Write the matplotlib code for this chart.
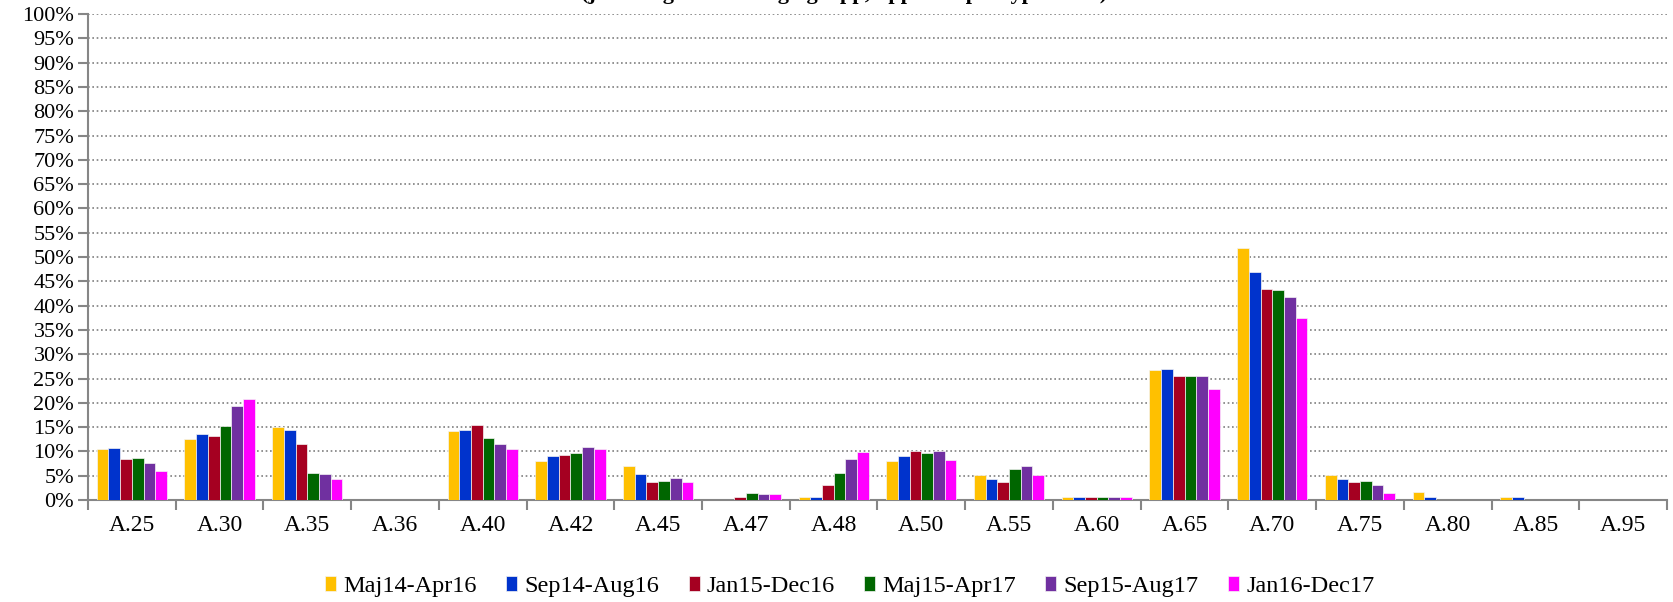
import numpy as np
import matplotlib
matplotlib.use("Agg")
import matplotlib.pyplot as plt
from matplotlib.ticker import FixedLocator

plt.rcParams['font.family'] = ['Liberation Serif', 'DejaVu Serif']

# categories on the x axis
categories = ['A.25', 'A.30', 'A.35', 'A.36', 'A.40', 'A.42', 'A.45', 'A.47', 'A.48',
              'A.50', 'A.55', 'A.60', 'A.65', 'A.70', 'A.75', 'A.80', 'A.85', 'A.95']

# one list per period, values in percent
maj14_apr16 = [10.6, 12.5, 15.1, 0, 14.3, 8.0, 7.1, 0.0, 0.7, 8.0, 5.2, 0.7, 26.7, 51.8, 5.2, 1.7, 0.7, 0]
sep14_aug16 = [10.8, 13.5, 14.4, 0, 14.4, 9.0, 5.3, 0.0, 0.7, 9.0, 4.4, 0.7, 26.9, 46.9, 4.3, 0.7, 0.7, 0]
jan15_dec16 = [8.4, 13.2, 11.6, 0, 15.5, 9.2, 3.8, 0.6, 3.0, 10.1, 3.8, 0.6, 25.5, 43.4, 3.8, 0, 0, 0]
maj15_apr17 = [8.7, 15.2, 5.5, 0, 12.8, 9.6, 4.0, 1.5, 5.5, 9.6, 6.3, 0.6, 25.5, 43.2, 3.9, 0, 0, 0]
sep15_aug17 = [7.7, 19.4, 5.3, 0, 11.6, 10.9, 4.5, 1.3, 8.5, 10.1, 6.9, 0.6, 25.5, 41.8, 3.0, 0, 0, 0]
jan16_dec17 = [6.0, 20.7, 4.4, 0, 10.6, 10.6, 3.8, 1.3, 9.9, 8.3, 5.2, 0.6, 22.8, 37.4, 1.4, 0, 0, 0]

series_names = ['Maj14-Apr16', 'Sep14-Aug16', 'Jan15-Dec16', 'Maj15-Apr17', 'Sep15-Aug17', 'Jan16-Dec17']
series = [maj14_apr16, sep14_aug16, jan15_dec16, maj15_apr17, sep15_aug17, jan16_dec17]
colors = ['#FFC000', '#0033CC', '#A50021', '#006600', '#7030A0', '#FF00FF']

fig = plt.figure(figsize=(16.73, 6.02), dpi=100)
ax = fig.add_axes([0.0526, 0.1694, 0.9438, 0.8073])

x = np.arange(len(categories))
n = len(series)
w = 0.8 / n
for i, (vals, name, c) in enumerate(zip(series, series_names, colors)):
    ax.bar(x - 0.4 + w * (i + 0.5), vals, width=w, color=c, edgecolor='#f4f4f4',
           linewidth=0.5, label=name, zorder=3)

# axes look
ax.set_xlim(-0.5, len(categories) - 0.5)
ax.set_ylim(0, 100)
ax.set_yticks(np.arange(0, 101, 5))
ax.set_yticklabels(['%d%%' % v for v in range(0, 101, 5)], fontsize=16)
ax.yaxis.grid(True, linestyle=(0, (1, 1.6)), color='#7f7f7f', linewidth=1.2, zorder=0)
ax.set_xticks(x)
ax.set_xticklabels(categories, fontsize=17)
ax.xaxis.set_minor_locator(FixedLocator(np.arange(-0.5, len(categories), 1)))
ax.tick_params(axis='x', which='major', length=0, pad=11)
ax.tick_params(axis='x', which='minor', length=7, width=1.5, color='#868686')
ax.tick_params(axis='y', length=7, width=1.5, color='#868686', pad=3)
for s in ['top', 'right']:
    ax.spines[s].set_visible(False)
for s in ['left', 'bottom']:
    ax.spines[s].set_color('#868686')
    ax.spines[s].set_linewidth(1.5)

ax.legend(loc='center', bbox_to_anchor=(0.508, 0.026), bbox_transform=fig.transFigure,
          ncol=6, frameon=False, fontsize=17.5, handlelength=0.45, handleheight=0.6,
          handletextpad=0.3, columnspacing=1.2)

# title is cut off by the top edge of the picture
fig.text(0.5045, 1.0 + 1.0 / 602, '(justering för ändring i grupp, uppdelat per typ och år)',
         ha='center', va='baseline', fontsize=16, fontweight='bold')

fig.savefig('out.png', dpi=100)
